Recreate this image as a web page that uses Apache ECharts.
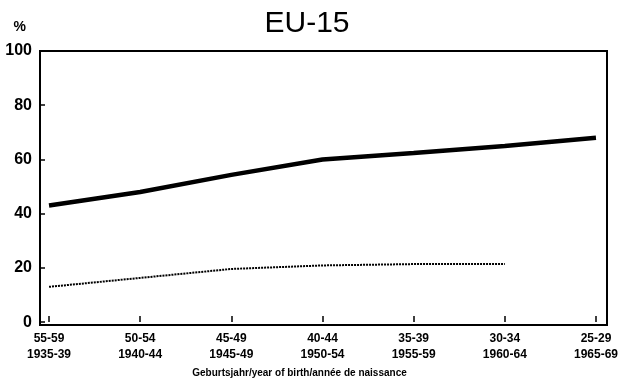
<!DOCTYPE html>
<html>
<head>
<meta charset="utf-8">
<script src="https://cdn.jsdelivr.net/npm/echarts@6/dist/echarts.min.js"></script>
<style>
html, body { margin: 0; padding: 0; background: #fff; }
#chart { width: 621px; height: 383px; }
</style>
</head>
<body>
<div id="chart"></div>
<script>
// Altersgruppen / Geburtsjahrgänge
var ageGroups = ['55-59', '50-54', '45-49', '40-44', '35-39', '30-34', '25-29'];
var birthYears = ['1935-39', '1940-44', '1945-49', '1950-54', '1955-59', '1960-64', '1965-69'];
// Werte in %
var seriesThick = [43, 48, 54.3, 60, 62.4, 65, 68];
var seriesDotted = [13, 16.3, 19.6, 20.9, 21.4, 21.4, null];
var yTicks = [0, 20, 40, 60, 80, 100];

var categories = ageGroups.map(function(a, i){
	return a + '\n' + birthYears[i];
});

var font = 'Liberation Sans, Arial, sans-serif';
var chart = echarts.init(document.getElementById('chart'));
var option = {
	animation: false,
	backgroundColor: '#fff',
	title: {
		text: 'EU-15',
		left: 302,
		top: 4,
		textAlign: 'center',
		textStyle: { fontFamily: font, fontSize: 30, fontWeight: 'normal', color: '#000' }
	},
	grid: [
		{ left: 49, right: 23, top: 51, bottom: 58 },
		// Rahmen
		{ left: 40, right: 14, top: 51, bottom: 58, show: true, borderColor: '#000', borderWidth: 2, backgroundColor: 'transparent' }
	],
	xAxis: [
		{
			gridIndex: 0,
			type: 'category',
			data: categories,
			boundaryGap: false,
			axisLine: { show: false },
			axisTick: { show: true, inside: true, length: 6, lineStyle: { color: '#000', width: 1.5 } },
			axisLabel: {
				interval: 0, margin: 9, color: '#000', fontFamily: font,
				fontSize: 12, fontWeight: 'bold', lineHeight: 16
			},
			name: 'Geburtsjahr/year of birth/année de naissance',
			nameLocation: 'middle',
			nameGap: 43,
			nameTextStyle: { color: '#000', fontFamily: font, fontSize: 10, fontWeight: 'bold', padding: [0, 46, 0, 0] },
			splitLine: { show: false }
		},
		{ gridIndex: 1, type: 'value', show: false }
	],
	yAxis: [
		{
			gridIndex: 0,
			type: 'value',
			min: 0,
			max: 100,
			interval: 20,
			offset: 9,
			axisLine: { show: false },
			axisTick: { show: true, inside: true, length: 5, lineStyle: { color: '#000', width: 1.5 } },
			axisLabel: {
				margin: 8, color: '#000', fontFamily: font, fontSize: 16, fontWeight: 'bold',
				formatter: function(v){ return yTicks.indexOf(v) >= 0 ? String(v) : ''; }
			},
			splitLine: { show: false },
			name: '%',
			nameLocation: 'end',
			nameGap: 17,
			nameTextStyle: { color: '#000', fontFamily: font, fontSize: 14, fontWeight: 'bold', align: 'right', padding: [0, 14, 0, 0] }
		},
		{ gridIndex: 1, type: 'value', show: false }
	],
	series: [
		{
			type: 'line',
			xAxisIndex: 0,
			yAxisIndex: 0,
			data: seriesThick,
			symbol: 'none',
			lineStyle: { color: '#000', width: 4.5 }
		},
		{
			type: 'line',
			xAxisIndex: 0,
			yAxisIndex: 0,
			data: seriesDotted,
			symbol: 'none',
			lineStyle: { color: '#000', width: 2, type: [2, 1] }
		}
	]
};
chart.setOption(option);
</script>
</body>
</html>
